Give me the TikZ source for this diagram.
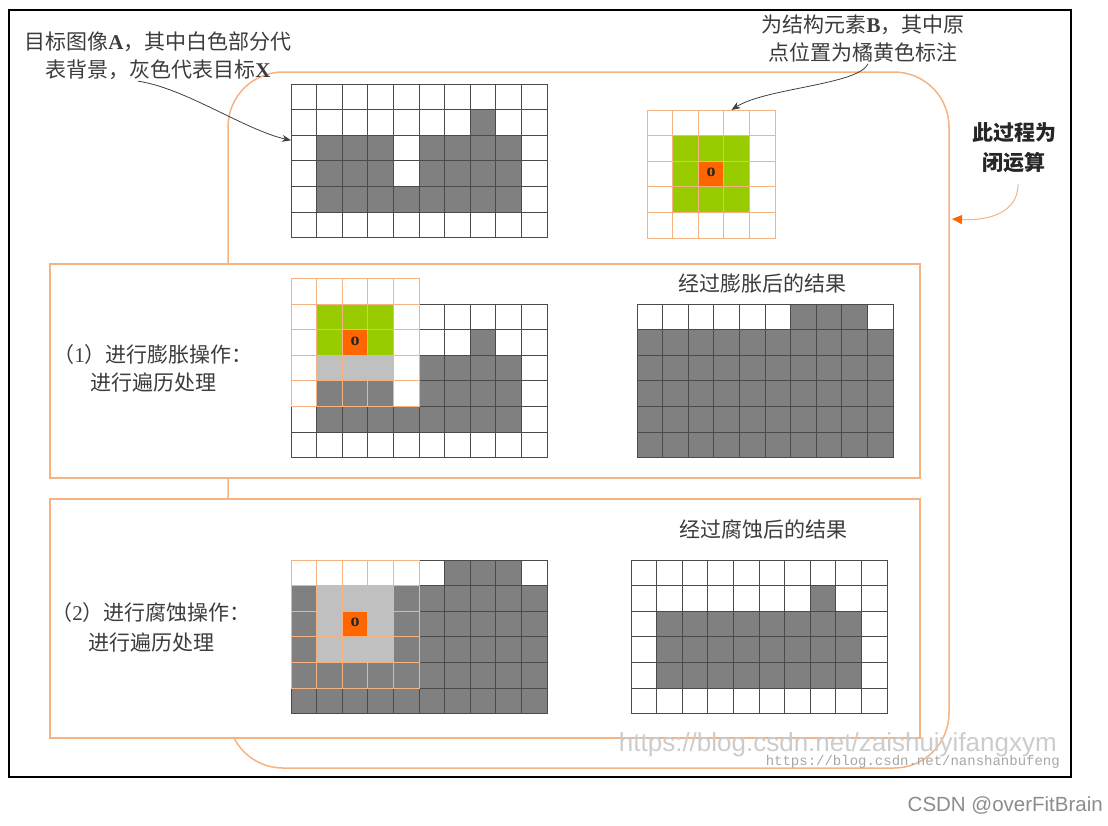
\documentclass[tikz,border=0pt]{standalone}
\usepackage{fontspec}
\setmainfont{Noto Sans CJK SC}
\newfontfamily\serifletters{Liberation Serif}
\newfontfamily\wmsans{Liberation Sans}
\newfontfamily\wmmono{Liberation Mono}
\usepackage{xcolor}
\definecolor{mmgrid}{RGB}{75,75,75}
\definecolor{mmobj}{RGB}{128,128,128}
\definecolor{mmhit}{RGB}{192,192,192}
\definecolor{mmgreen}{RGB}{153,204,0}
\definecolor{mmorange}{RGB}{255,102,0}
\definecolor{mmpeach}{RGB}{247,178,130}
\definecolor{mmtext}{RGB}{60,60,60}
\usepackage{tikz}
\usetikzlibrary{arrows.meta, positioning}

\begin{document}
\begin{tikzpicture}[
    x=1pt, y=-1pt,
    every node/.style={font=\fontsize{21}{28}\selectfont, text=mmtext},
    pix/.style={draw=mmgrid, line width=1pt, fill=white},
    fg/.style={pix, fill=mmobj},
    sepix/.style={draw=mmpeach, line width=1pt, fill=white},
    sein/.style={sepix, fill=mmgreen},
    seorg/.style={sepix, fill=mmorange},
    sehit/.style={sepix, fill=mmhit},
    sefg/.style={sepix, fill=mmobj},
    panel/.style={draw=mmpeach, line width=1.2pt, fill=white},
    note/.style={align=center, inner sep=1pt},
    origin/.style={font=\serifletters\bfseries\fontsize{18}{18}\selectfont,
                   text=black!85, inner sep=0pt},
    arr/.style={-{Stealth[length=9pt, width=7pt]}, line width=0.8pt, black!75},
    orarr/.style={-{Triangle[length=10pt, width=9pt, color=mmorange]},
                  line width=1pt, mmpeach},
]
\useasboundingbox (0,0) rectangle (1108,825);

% ===== frames =====
\draw[line width=1.3pt, black] (9,10) rectangle (1071,777);
\draw[mmpeach, line width=1.5pt, rounded corners=55pt] (228,72) rectangle (949,768);
\draw[panel] (50,264) rectangle (920,478);
\draw[panel] (50,499) rectangle (920,738);

% ===== TOP: target image A =====
\begin{scope}[shift={(291,84)}, x=25.6pt, y=-25.6pt]
  \foreach \cx in {0,...,9}
    \foreach \ry in {0,...,5}
      \draw[pix] (\cx,\ry) rectangle +(1,1);
  \foreach \cx/\ry in {7/1, 1/2,2/2,3/2,5/2,6/2,7/2,8/2, 1/3,2/3,3/3,5/3,6/3,7/3,8/3,
                       1/4,2/4,3/4,4/4,5/4,6/4,7/4,8/4}
    \draw[fg] (\cx,\ry) rectangle +(1,1);
  \coordinate (gAin) at (0,2.2);
\end{scope}

% ===== TOP: structuring element B =====
\begin{scope}[shift={(647,110)}, x=25.6pt, y=-25.6pt]
  \foreach \cx in {0,...,4}
    \foreach \ry in {0,...,4}
      \draw[sepix] (\cx,\ry) rectangle +(1,1);
  \foreach \cx/\ry in {1/1,2/1,3/1,1/2,3/2,1/3,2/3,3/3}
    \draw[sein] (\cx,\ry) rectangle +(1,1);
  \draw[seorg] (2,2) rectangle +(1,1);
  \node[origin] (oB) at (2.5,2.45) {o};
  \coordinate (gBin) at (3.3,0);
\end{scope}

% ===== PANEL 1: dilation =====
\begin{scope}[shift={(291,304)}, x=25.6pt, y=-25.6pt]
  \foreach \cx in {0,...,9}
    \foreach \ry in {0,...,5}
      \draw[pix] (\cx,\ry) rectangle +(1,1);
  \foreach \cx/\ry in {7/1, 1/2,2/2,3/2,5/2,6/2,7/2,8/2, 1/3,2/3,3/3,5/3,6/3,7/3,8/3,
                       1/4,2/4,3/4,4/4,5/4,6/4,7/4,8/4}
    \draw[fg] (\cx,\ry) rectangle +(1,1);
  % B sliding over A
  \foreach \cx in {0,...,4}
    \foreach \ry in {-1,...,3}
      \draw[sepix] (\cx,\ry) rectangle +(1,1);
  \foreach \cx/\ry in {1/0,2/0,3/0,1/1,3/1}
    \draw[sein] (\cx,\ry) rectangle +(1,1);
  \foreach \cx in {1,2,3} {
    \draw[sehit] (\cx,2) rectangle +(1,1);
    \draw[sefg] (\cx,3) rectangle +(1,1);
  }
  \draw[seorg] (2,1) rectangle +(1,1);
  \node[origin] (o1) at (2.5,1.45) {o};
\end{scope}

\begin{scope}[shift={(637,304)}, x=25.6pt, y=-25.6pt]
  \foreach \cx in {0,...,9}
    \foreach \ry in {1,...,5}
      \draw[fg] (\cx,\ry) rectangle +(1,1);
  \foreach \cx in {0,...,5,9}
    \draw[pix] (\cx,0) rectangle +(1,1);
  \foreach \cx in {6,7,8}
    \draw[fg] (\cx,0) rectangle +(1,1);
\end{scope}

% ===== PANEL 2: erosion =====
\begin{scope}[shift={(291,560)}, x=25.6pt, y=-25.6pt]
  \foreach \cx in {0,...,9}
    \foreach \ry in {1,...,5}
      \draw[fg] (\cx,\ry) rectangle +(1,1);
  \foreach \cx in {5,9}
    \draw[pix] (\cx,0) rectangle +(1,1);
  \foreach \cx in {6,7,8}
    \draw[fg] (\cx,0) rectangle +(1,1);
  % B sliding over the dilated image
  \foreach \cx in {0,...,4}
    \foreach \ry in {1,...,4}
      \draw[sefg] (\cx,\ry) rectangle +(1,1);
  \foreach \cx in {0,...,4}
    \draw[sepix] (\cx,0) rectangle +(1,1);
  \foreach \cx in {1,2,3}
    \foreach \ry in {1,2,3}
      \draw[sehit] (\cx,\ry) rectangle +(1,1);
  \draw[seorg] (2,2) rectangle +(1,1);
  \node[origin] (o2) at (2.5,2.45) {o};
\end{scope}

\begin{scope}[shift={(631,560)}, x=25.6pt, y=-25.6pt]
  \foreach \cx in {0,...,9}
    \foreach \ry in {0,...,5}
      \draw[pix] (\cx,\ry) rectangle +(1,1);
  \foreach \cx/\ry in {7/1, 1/2,2/2,3/2,4/2,5/2,6/2,7/2,8/2, 1/3,2/3,3/3,4/3,5/3,6/3,7/3,8/3,
                       1/4,2/4,3/4,4/4,5/4,6/4,7/4,8/4}
    \draw[fg] (\cx,\ry) rectangle +(1,1);
\end{scope}

% ===== labels =====
\node[note] (tA) at (158,56)
      {目标图像{\serifletters\bfseries A}，其中白色部分代\\表背景，灰色代表目标{\serifletters\bfseries X}};
\node[note] (tB) at (863,39)
      {为结构元素{\serifletters\bfseries B}，其中原\\点位置为橘黄色标注};
\node[note, font=\bfseries\fontsize{21}{30}\selectfont, text=black!85] (tClose) at (1014,148)
      {此过程为\\闭运算};
\node[note] (t1) at (153,368) {（{\serifletters 1}）进行膨胀操作：\\进行遍历处理};
\node[note, font=\fontsize{21}{30}\selectfont] (t2) at (151,627)
      {（{\serifletters 2}）进行腐蚀操作：\\进行遍历处理};
\node[note] (r1) at (762,284) {经过膨胀后的结果};
\node[note] (r2) at (763,530) {经过腐蚀后的结果};

% arrows
\coordinate (closeTip) at (952,219);
\draw[arr] ([xshift=-20pt]tA.south) .. controls (185,88) and (245,130) .. (gAin);
\draw[arr] ([xshift=5pt]tB.south) .. controls (858,85) and (765,88) .. (gBin);
\draw[orarr] ([xshift=4pt, yshift=-10pt]tClose.south) .. controls (1018,212) and (990,221) .. (closeTip);

% watermarks
\node[anchor=east, font=\wmsans\fontsize{26}{26}\selectfont, text=black!20, inner sep=0pt]
      (wmA) at (1057,745) {https://blog.csdn.net/zaishuiyifangxym};
\node[anchor=east, font=\wmmono\fontsize{14}{14}\selectfont, text=black!35, inner sep=0pt]
      (wmB) at (1060,762) {https://blog.csdn.net/nanshanbufeng};
\node[anchor=east, font=\wmsans\fontsize{20.5}{20.5}\selectfont, text=black!45, inner sep=0pt]
      (wmC) at (1103,805) {CSDN @overFitBrain};

\end{tikzpicture}
\end{document}
